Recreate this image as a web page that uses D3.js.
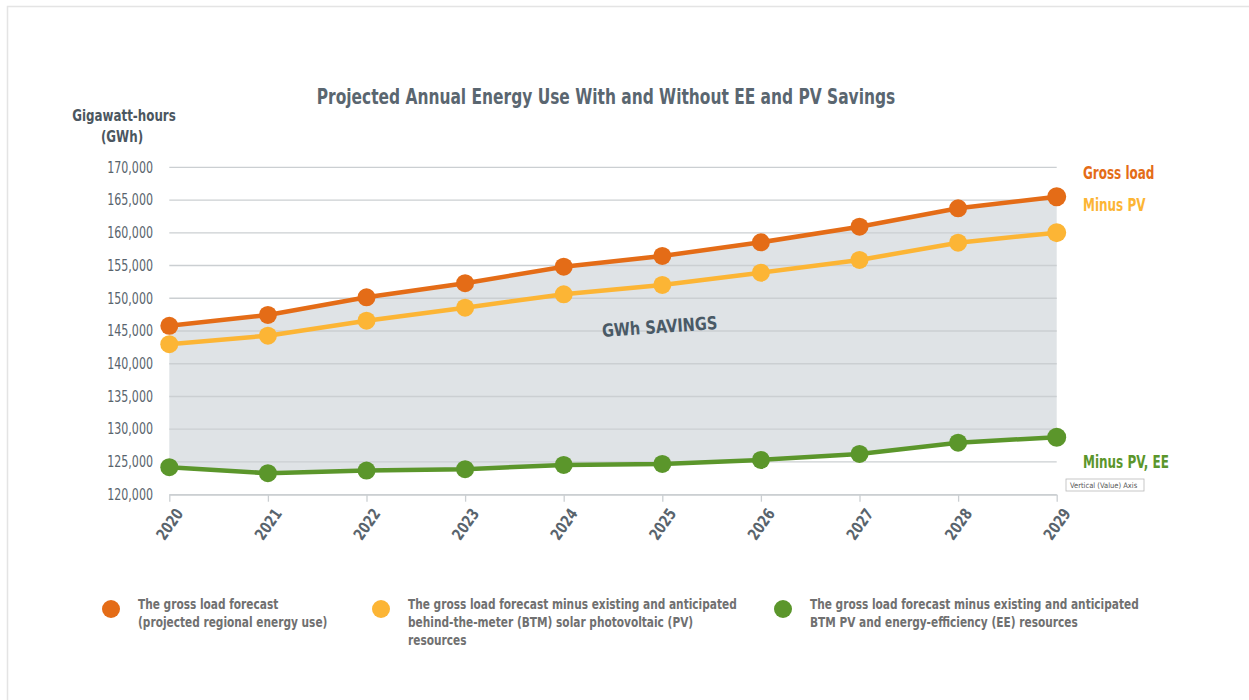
<!DOCTYPE html>
<html>
<head>
<meta charset="utf-8">
<script src="https://cdn.jsdelivr.net/npm/d3@7"></script>
<style>
  body { margin: 0; background: #fff; }
  svg text { font-family: "DejaVu Sans Condensed", "Liberation Sans", sans-serif; }
</style>
</head>
<body>
<div id="chart"></div>
<script>
const years = [2020, 2021, 2022, 2023, 2024, 2025, 2026, 2027, 2028, 2029];
const grossLoad = [145800, 147450, 150150, 152300, 154820, 156460, 158550, 160930, 163740, 165510];
const minusPV = [142980, 144290, 146580, 148560, 150610, 152030, 153910, 155850, 158490, 160020];
const minusPVEE = [124200, 123280, 123680, 123890, 124550, 124700, 125310, 126230, 127950, 128780];
const yTicks = [120000, 125000, 130000, 135000, 140000, 145000, 150000, 155000, 160000, 165000, 170000];

const seriesNames = ["Gross load", "Minus PV", "Minus PV, EE"];
const legendTexts = [
  ["The gross load forecast", "(projected regional energy use)"],
  ["The gross load forecast minus existing and anticipated", "behind-the-meter (BTM) solar photovoltaic (PV)", "resources"],
  ["The gross load forecast minus existing and anticipated", "BTM PV and energy-efficiency (EE) resources"]
];
const colors = ["#e46c17", "#fcb535", "#5b962b"];

const width = 1249, height = 700;
const svg = d3.select("#chart").append("svg")
  .attr("width", width)
  .attr("height", height);

// the reference font is a narrow one, so squeeze the condensed glyphs a bit more
function squeeze(sel, f) {
  sel.each(function() {
    const L = this.getComputedTextLength();
    d3.select(this).attr("textLength", L * f).attr("lengthAdjust", "spacingAndGlyphs");
  });
}

// light frame round the picture
svg.append("rect")
  .attr("x", 7.5).attr("y", 6.5)
  .attr("width", width).attr("height", height)
  .attr("fill", "none")
  .attr("stroke", "#e4e4e4")
  .attr("stroke-width", 1.5);

const x = d3.scalePoint().domain(years).range([169.3, 1056.7]);
const y = d3.scaleLinear().domain([120000, 170000]).range([494.7, 167.3]);

// savings band between gross load and minus PV, EE
const area = d3.area()
  .x((d, i) => x(years[i]))
  .y0((d, i) => y(minusPVEE[i]))
  .y1(d => y(d));
svg.append("path")
  .datum(grossLoad)
  .attr("d", area)
  .attr("fill", "#dfe3e6");

// grid lines
svg.append("g")
  .selectAll("line")
  .data(yTicks)
  .enter()
  .append("line")
    .attr("x1", x(years[0]))
    .attr("x2", x(years[years.length - 1]))
    .attr("y1", d => y(d))
    .attr("y2", d => y(d))
    .attr("stroke", "#cbcfd2")
    .attr("stroke-width", 1.3);

// y labels
const yLabels = svg.append("g")
  .selectAll("text")
  .data(yTicks)
  .enter()
  .append("text")
    .attr("x", 153)
    .attr("y", d => y(d))
    .attr("dy", "0.35em")
    .attr("text-anchor", "end")
    .attr("fill", "#59646d")
    .style("font-size", "15px")
    .text(d => d3.format(",")(d));
squeeze(yLabels, 0.82);

// x axis
const xAxis = svg.append("g")
  .attr("transform", `translate(0,${y(120000)})`)
  .call(d3.axisBottom(x).tickSize(7).tickSizeOuter(0));
xAxis.select(".domain").attr("stroke", "#cbcfd2").attr("stroke-width", 1.3);
xAxis.selectAll(".tick line").attr("stroke", "#cbcfd2").attr("stroke-width", 1.3);
const yearLabels = xAxis.selectAll(".tick text")
  .attr("fill", "#59646d")
  .style("font-family", "DejaVu Sans Condensed")
  .style("font-size", "16px")
  .style("font-weight", "bold")
  .attr("text-anchor", "end")
  .attr("dy", 0)
  .attr("transform", "translate(6,13) rotate(-55)");
squeeze(yearLabels, 0.85);

// lines and dots
const allSeries = [grossLoad, minusPV, minusPVEE];
const line = d3.line().x((d, i) => x(years[i])).y(d => y(d));
allSeries.forEach((s, k) => {
  svg.append("path")
    .datum(s)
    .attr("d", line)
    .attr("fill", "none")
    .attr("stroke", colors[k])
    .attr("stroke-width", 4.5);
  svg.append("g")
    .selectAll("circle")
    .data(s)
    .enter()
    .append("circle")
      .attr("cx", (d, i) => x(years[i]))
      .attr("cy", d => y(d))
      .attr("r", (d, i) => i == years.length - 1 ? 9.5 : 9)
      .attr("fill", colors[k]);
});

// title
const title = svg.append("text")
  .attr("x", 606).attr("y", 104)
  .attr("text-anchor", "middle")
  .attr("fill", "#5a6670")
  .style("font-size", "22px")
  .style("font-weight", "bold")
  .text("Projected Annual Energy Use With and Without EE and PV Savings");
squeeze(title, 0.78);

// y axis title
const yTitle1 = svg.append("text")
  .attr("x", 124).attr("y", 121)
  .attr("text-anchor", "middle")
  .attr("fill", "#4b5660")
  .style("font-size", "15px")
  .style("font-weight", "bold")
  .text("Gigawatt-hours");
const yTitle2 = svg.append("text")
  .attr("x", 122).attr("y", 142)
  .attr("text-anchor", "middle")
  .attr("fill", "#4b5660")
  .style("font-size", "15px")
  .style("font-weight", "bold")
  .text("(GWh)");
squeeze(yTitle1, 0.88);
squeeze(yTitle2, 0.88);

// series labels at the right
const labelY = [179, 211, 468];
seriesNames.forEach((n, k) => {
  const t = svg.append("text")
    .attr("x", 1083).attr("y", labelY[k])
    .attr("fill", colors[k])
    .style("font-size", "18px")
    .style("font-weight", "bold")
    .text(n);
  squeeze(t, 0.74);
});

// the stray Excel tooltip
const tip = svg.append("g").attr("transform", "translate(1066,479)");
tip.append("rect")
  .attr("width", 78).attr("height", 12)
  .attr("fill", "#fff")
  .attr("stroke", "#b9b9b9")
  .attr("stroke-width", 0.8);
tip.append("text")
  .attr("x", 4).attr("y", 9)
  .attr("fill", "#555")
  .style("font-size", "7.5px")
  .text("Vertical (Value) Axis");

// savings label
const savings = svg.append("text")
  .attr("transform", "translate(660,333) rotate(-4)")
  .attr("text-anchor", "middle")
  .attr("fill", "#4a5a66")
  .style("font-size", "18px")
  .style("font-weight", "bold")
  .text("GWh SAVINGS");
squeeze(savings, 0.9);

// legend
const legendX = [111, 381, 783];
legendTexts.forEach((lines, k) => {
  svg.append("circle")
    .attr("cx", legendX[k]).attr("cy", 609)
    .attr("r", 9)
    .attr("fill", colors[k]);
  const spans = svg.append("text")
    .attr("x", legendX[k] + 27).attr("y", 609)
    .attr("fill", "#707070")
    .style("font-size", "14px")
    .style("font-weight", "bold")
    .selectAll("tspan")
    .data(lines)
    .enter()
    .append("tspan")
      .attr("x", legendX[k] + 27)
      .attr("dy", (d, i) => i == 0 ? 0 : 18)
      .text(d => d);
  squeeze(spans, 0.84);
});
</script>
</body>
</html>
